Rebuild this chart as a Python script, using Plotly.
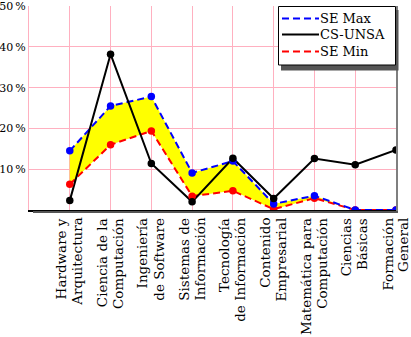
import plotly.graph_objects as go

categories = [
    "Hardware y<br>Arquitectura",
    "Ciencia de la<br>Computación",
    "Ingeniería<br>de Software",
    "Sistemas de<br>Información",
    "Tecnología<br>de Información",
    "Contenido<br>Empresarial",
    "Matemática para<br>Computación",
    "Ciencias<br>Básicas",
    "Formación<br>General",
]
se_max = [14.5, 25.5, 27.8, 9.1, 12.0, 1.5, 3.5, 0.0, 0.0]
cs_unsa = [2.3, 38.2, 11.4, 2.0, 12.7, 2.8, 12.6, 11.1, 14.7]
se_min = [6.3, 16.0, 19.4, 3.4, 4.7, 0.2, 2.9, 0.0, 0.0]
y_tickvals = [10, 20, 30, 40, 50]
y_ticktext = ["10\u2009%", "20\u2009%", "30\u2009%", "40\u2009%", "50\u2009%"]
series_names = ["SE Max", "CS-UNSA", "SE Min"]

FONT = "DejaVu Serif"
xs = list(range(len(categories)))
DASH = "7px,4px"
PINK = "#FFB0C0"
BLUE, BLACK, RED = "#0000FF", "#000000", "#FF0000"

# plot-area geometry (px) used for paper-coordinate conversions
L, R, T, B = 29, 15, 6, 127
W, H = 411, 337
PW, PH = W - L - R, H - T - B


def px(xp):
    return (xp - L) / PW


def py(yp):
    return (T + PH - yp) / PH


fig = go.Figure()
fig.add_trace(go.Scatter(x=xs, y=se_min, mode="lines", name="SE Min",
                         line=dict(color=RED, width=2, dash=DASH)))
fig.add_trace(go.Scatter(x=xs, y=se_max, mode="lines", showlegend=False,
                         line=dict(width=0), fill="tonexty",
                         fillcolor="#FFFF00", hoverinfo="skip"))
fig.add_trace(go.Scatter(x=xs, y=se_max, mode="lines", name="SE Max",
                         line=dict(color=BLUE, width=2, dash=DASH)))
fig.add_trace(go.Scatter(x=xs, y=cs_unsa, mode="lines", name="CS-UNSA",
                         line=dict(color=BLACK, width=2)))
for ys, col in [(se_min, RED), (se_max, BLUE), (cs_unsa, BLACK)]:
    fig.add_trace(go.Scatter(x=xs, y=ys, mode="markers", showlegend=False,
                             marker=dict(color=col, size=7.5, line=dict(width=0)),
                             hoverinfo="skip"))

fig.update_layout(
    width=W, height=H,
    margin=dict(l=L, r=R, t=T, b=B, autoexpand=False),
    paper_bgcolor="white", plot_bgcolor="white",
    font=dict(family=FONT, size=13, color="black"),
    showlegend=False,
    xaxis=dict(range=[-1, 8], tickmode="array", tickvals=xs,
               showticklabels=False, automargin=False,
               showgrid=True, gridcolor=PINK, gridwidth=1,
               showline=True, linecolor="black", linewidth=2,
               ticks="", zeroline=False, layer="below traces"),
    yaxis=dict(range=[0, 50.02], tickmode="array", tickvals=y_tickvals,
               ticktext=y_ticktext, automargin=False,
               ticklabeloverflow="allow",
               showgrid=True, gridcolor=PINK, gridwidth=1,
               showline=True, linecolor=PINK, linewidth=1,
               ticks="", zeroline=False, layer="below traces",
               tickfont=dict(family=FONT, size=11, color="black")),
)

# category labels (two rotated lines each, tight line spacing)
LINE_GAP = 15.8
for i, lab in enumerate(categories):
    parts = lab.split("<br>")
    n = len(parts)
    for j, part in enumerate(parts):
        fig.add_annotation(x=xs[i], y=0, xref="x", yref="paper",
                           text=part, showarrow=False, textangle=-90,
                           xanchor="center", yanchor="top",
                           xshift=(j - (n - 1) / 2) * LINE_GAP - 1,
                           yshift=-6,
                           font=dict(family=FONT, size=13.5, color="black"))

# axis shadow (bottom) and right frame line
fig.add_shape(type="line", xref="paper", yref="paper",
              x0=px(33), x1=px(398), y0=py(212), y1=py(212),
              line=dict(color="#555555", width=2))
fig.add_shape(type="line", xref="paper", yref="paper",
              x0=px(397), x1=px(397), y0=py(212), y1=py(T),
              line=dict(color="#555555", width=1.5))

# legend box with drop shadow
fig.add_shape(type="rect", xref="paper", yref="paper",
              x0=px(281), x1=px(398.5), y0=py(70.5), y1=py(10),
              line=dict(width=0), fillcolor="#555555", layer="above")
fig.add_shape(type="rect", xref="paper", yref="paper",
              x0=px(278.5), x1=px(395.5), y0=py(65), y1=py(6.5),
              line=dict(width=1, color="black"), fillcolor="white",
              layer="above")
legend_rows = [(series_names[0], BLUE, DASH, 18.5),
               (series_names[1], BLACK, "solid", 34.5),
               (series_names[2], RED, DASH, 51.5)]
for name, col, dash, yrow in legend_rows:
    fig.add_shape(type="line", xref="paper", yref="paper",
                  x0=px(282), x1=px(319), y0=py(yrow), y1=py(yrow),
                  line=dict(color=col, width=2, dash=dash), layer="above")
    fig.add_annotation(x=px(318), y=py(yrow), xref="paper", yref="paper",
                       text=name, showarrow=False, xanchor="left",
                       yanchor="middle",
                       font=dict(family=FONT, size=13, color="black"))
fig.write_html("out.html")
